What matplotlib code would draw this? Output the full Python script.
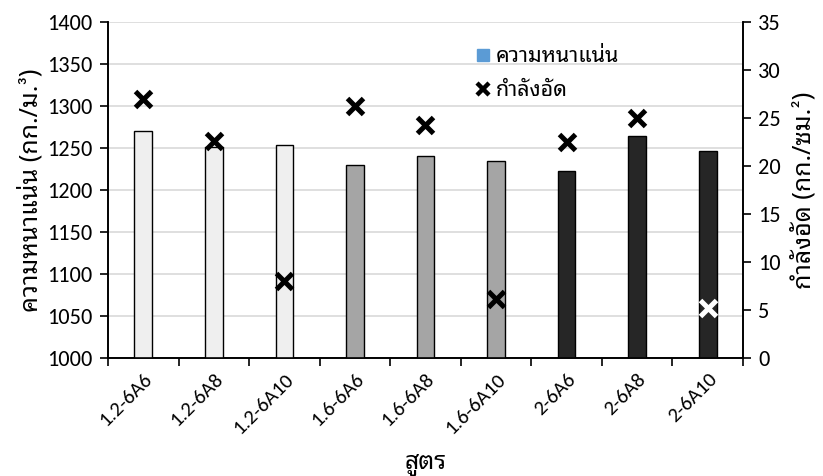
import matplotlib
matplotlib.use("Agg")
import matplotlib.pyplot as plt
import numpy as np
from matplotlib import font_manager
from matplotlib.ft2font import FT2Font
from matplotlib.lines import Line2D

# ---- data ----
categories = ["1.2-6A6", "1.2-6A8", "1.2-6A10",
              "1.6-6A6", "1.6-6A8", "1.6-6A10",
              "2-6A6", "2-6A8", "2-6A10"]
density = [1270, 1251, 1253, 1230, 1240, 1235, 1223, 1264, 1246]      # kg/m3
strength = [27.0, 22.6, 8.0, 26.3, 24.3, 6.1, 22.5, 25.0, 5.2]         # kg/cm2
groups = [0, 0, 0, 1, 1, 1, 2, 2, 2]

# ---- fonts ----
installed = {f.name for f in font_manager.fontManager.ttflist}
thai_capable = set()
for f in font_manager.fontManager.ttflist:
    try:
        if 0x0E01 in FT2Font(f.fname).get_charmap():
            thai_capable.add(f.name)
    except Exception:
        pass

def first_of(prefs, pool, default):
    for p in prefs:
        if p in pool:
            return p
    return default

thai_font = first_of(["Tahoma", "Leelawadee UI", "Noto Sans Thai Looped", "Loma",
                      "Sarabun", "Noto Sans Thai", "Anuphan"], thai_capable,
                     sorted(thai_capable)[0] if thai_capable else "DejaVu Sans")
latin_font = first_of(["Carlito", "Calibri", "Open Sans"], installed, "DejaVu Sans")
fam = [latin_font, thai_font, "DejaVu Sans"]
thai_fam = [thai_font, latin_font, "DejaVu Sans"]
plt.rcParams["font.family"] = fam

# ---- figure ----
fig = plt.figure(figsize=(8.23, 4.76), dpi=100)
ax = fig.add_axes([108 / 823, 1 - 358 / 476, (743 - 108) / 823, (358 - 22) / 476])
ax2 = ax.twinx()

x = np.arange(len(categories))
bar_colors = ["#EFEFEF", "#A5A5A5", "#262626"]
ax.bar(x, density, width=0.25, color=[bar_colors[g] for g in groups],
       edgecolor="black", linewidth=1.0, zorder=3)

ax.set_xlim(-0.5, len(categories) - 0.5)
ax.set_ylim(1000, 1400)
ax.set_yticks(np.arange(1000, 1401, 50))
ax.grid(axis="y", color="#D9D9D9", linewidth=1.2, zorder=0)
ax.set_axisbelow(True)

# category boundary ticks, labels at centres
ax.set_xticks(np.arange(-0.5, len(categories), 1.0))
ax.set_xticklabels([])
ax.set_xticks(x, minor=True)
ax.set_xticklabels(categories, minor=True, rotation=45, ha="right",
                   rotation_mode="anchor", fontsize=15)
ax.tick_params(axis="x", which="minor", length=0, pad=9)
ax.tick_params(axis="x", which="major", length=6, width=1.2, direction="out")
ax.tick_params(axis="y", labelsize=16, length=6, width=1.2, direction="out", pad=5)

# strength markers on the secondary axis
mcolors = ["black"] * (len(strength) - 1) + ["white"]
for xi, s, c in zip(x, strength, mcolors):
    ax2.plot(xi, s, linestyle="none", marker="x", markersize=12,
             markeredgewidth=3.6, color=c, zorder=5)
ax2.set_ylim(0, 35)
ax2.set_yticks(np.arange(0, 36, 5))
ax2.tick_params(axis="y", labelsize=16, length=6, width=1.2, direction="out", pad=5)

for a in (ax, ax2):
    a.spines["top"].set_visible(False)
    for s in ("left", "right", "bottom"):
        a.spines[s].set_linewidth(1.2)
        a.spines[s].set_color("black")

ax.set_ylabel("ความหนาแน่น (กก./ม.³)", fontsize=18, family=thai_fam, labelpad=3)
ax2.set_ylabel("กำลังอัด (กก./ซม.²)", fontsize=18, family=thai_fam, labelpad=7)
ax.set_xlabel("สูตร", fontsize=18, family=thai_fam, fontweight="bold", labelpad=10)

# legend
handles = [Line2D([], [], linestyle="none", marker="s", markersize=8,
                  color="#5B9BD5"),
           Line2D([], [], linestyle="none", marker="x", markersize=9,
                  markeredgewidth=3.2, color="black")]
ax2.legend(handles, ["ความหนาแน่น", "กำลังอัด"], loc="upper left",
           bbox_to_anchor=(0.55, 0.985), frameon=False, handlelength=0.6,
           handletextpad=0.3, labelspacing=0.6,
           prop={"family": thai_fam, "size": 15.5})

fig.savefig("out.png", dpi=100)
